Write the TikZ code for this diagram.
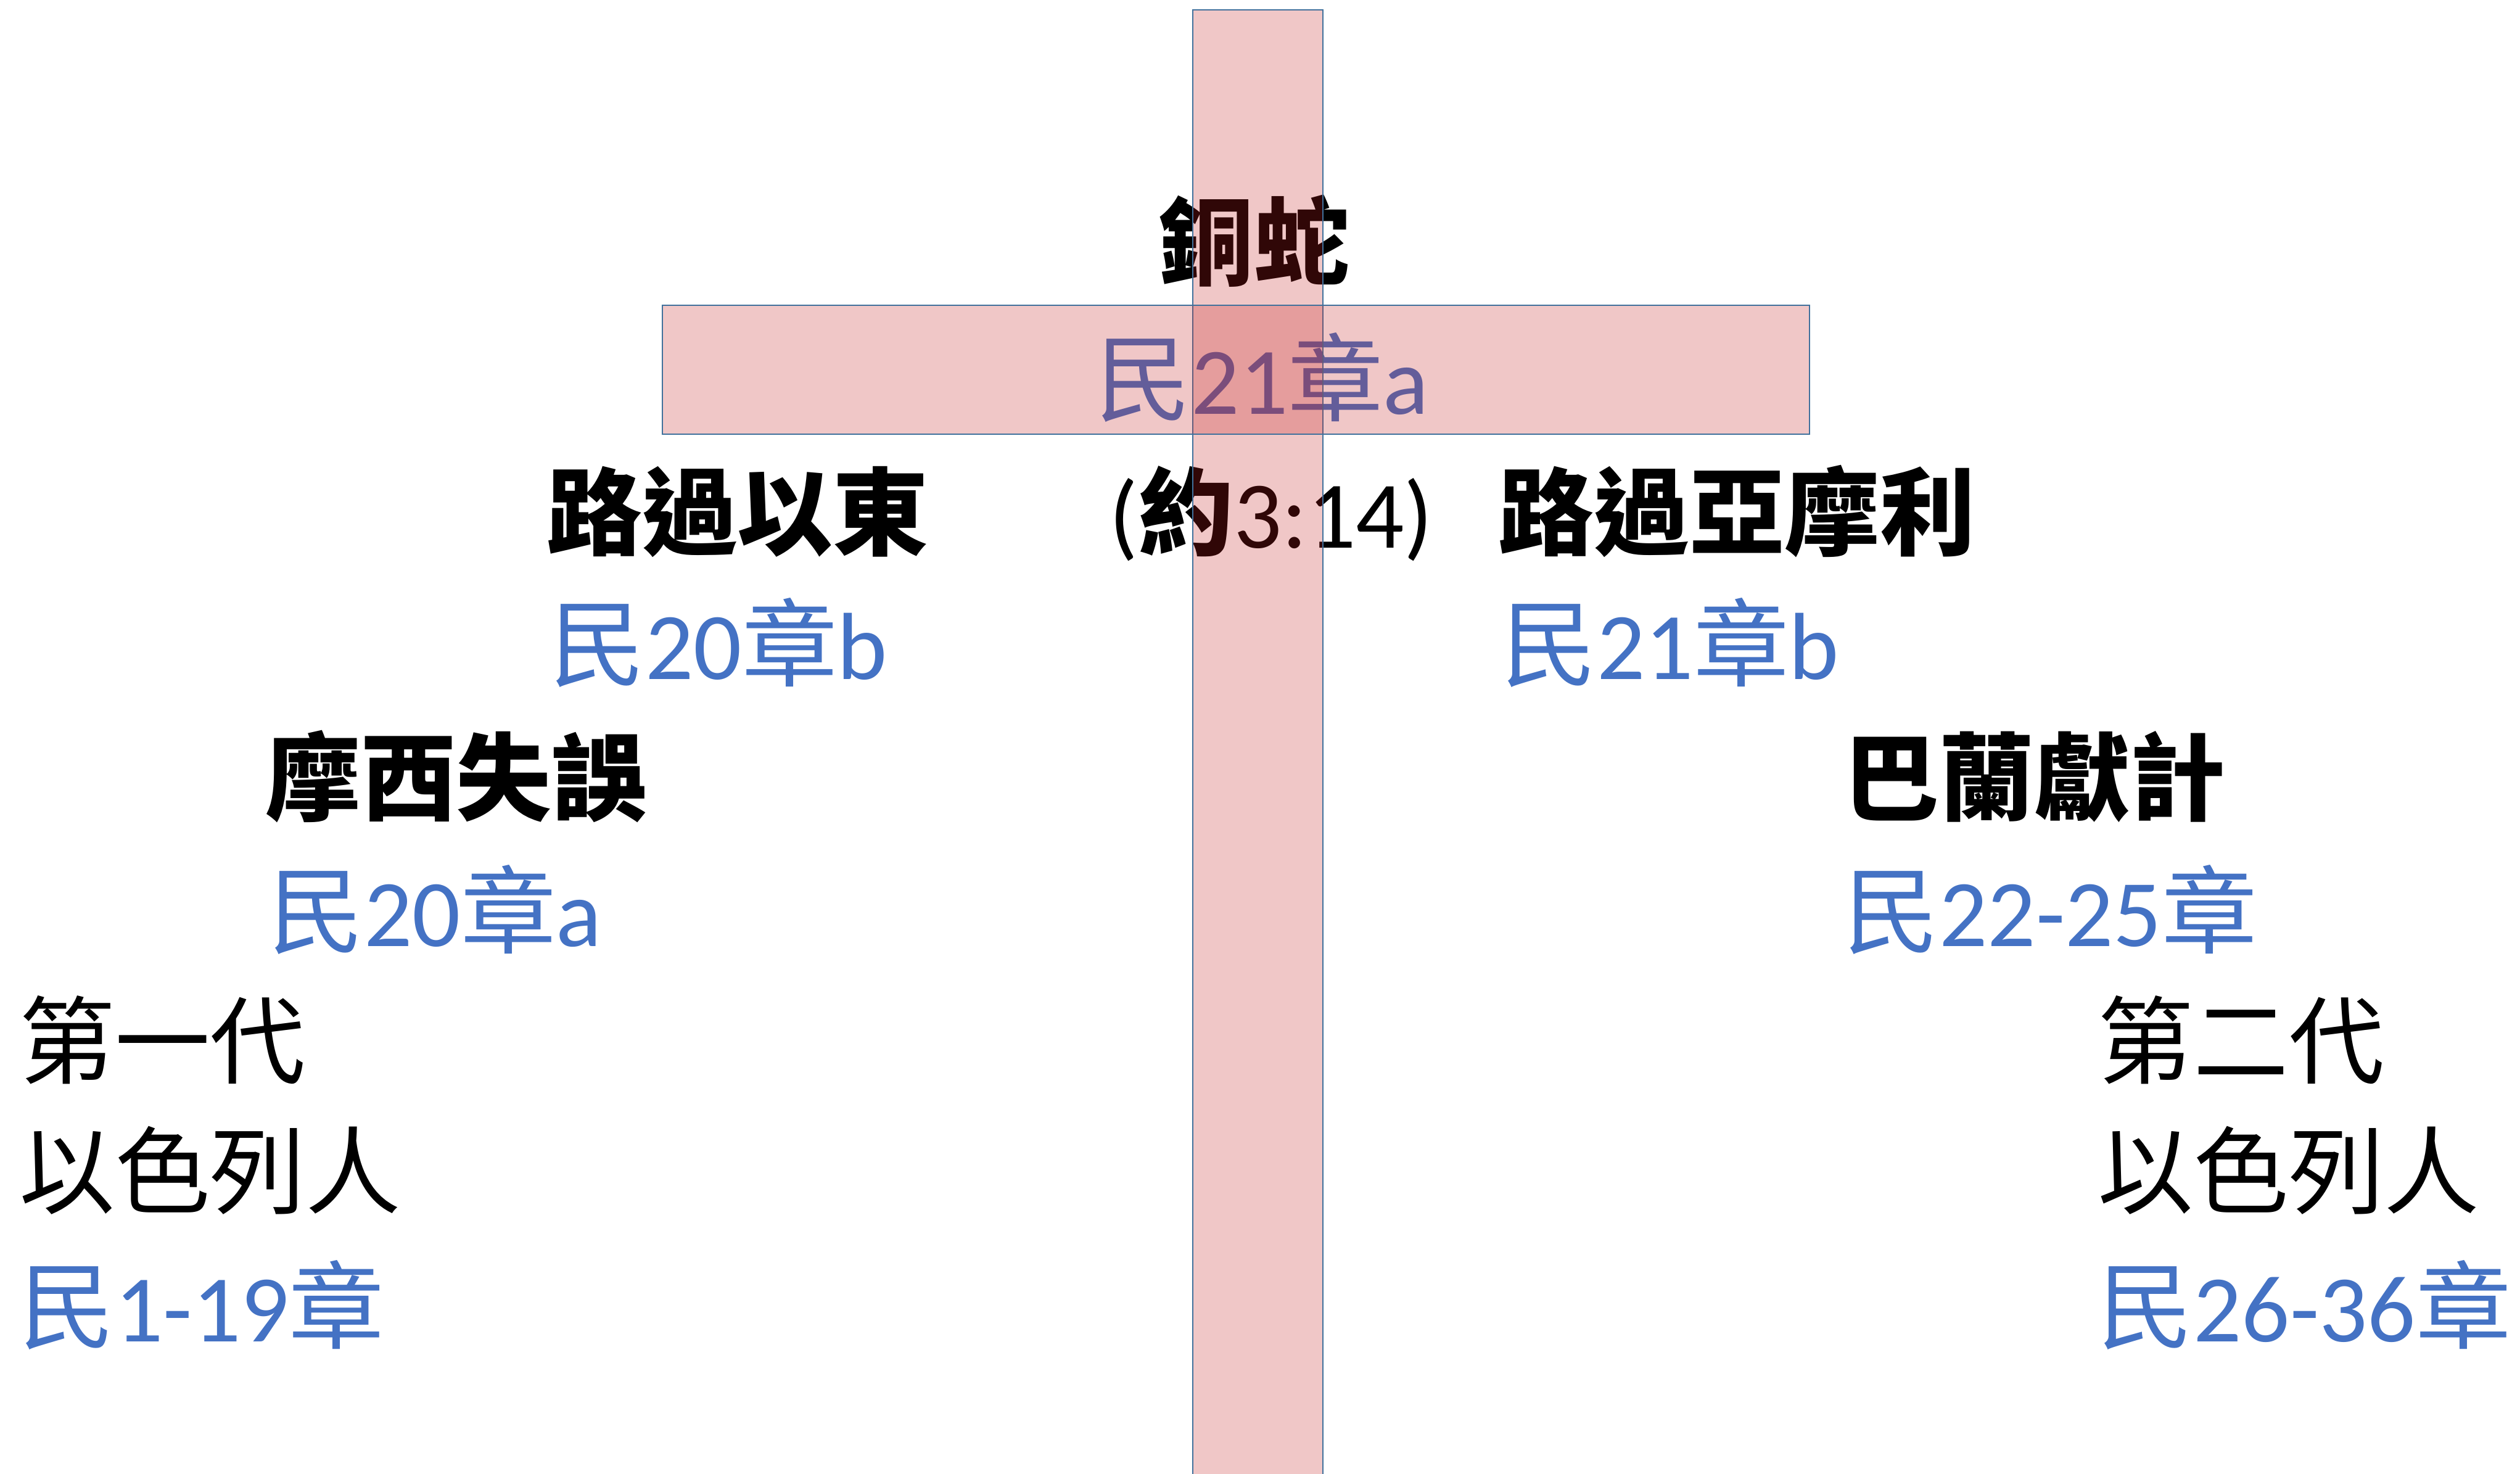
\documentclass[tikz,border=0pt]{standalone}
\usepackage{fontspec}
\setmainfont{Carlito}
\newfontfamily\zhfont{Noto Sans CJK TC}
\newcommand{\zh}[1]{{\zhfont #1}}
\definecolor{refblue}{RGB}{68,114,196}
\definecolor{crossfill}{RGB}{195,31,31}
\definecolor{crossline}{RGB}{65,113,156}

\begin{document}
\begin{tikzpicture}[
    txt/.style={inner sep=0pt, font=\fontsize{44}{50}\selectfont},
    head/.style={txt, anchor=base west},
    ref/.style={txt, anchor=base west, text=refblue},
    bar/.style={fill=crossfill, fill opacity=0.25, draw=crossline, line width=0.8pt}]
  \useasboundingbox (0,0) rectangle (40.86,-23.90);

  \node[txt, anchor=base] (snake) at (20.33,-4.50) {\zh{\bfseries 銅蛇}};
  \node[txt, anchor=base, text=refblue] (snakeref) at (20.47,-6.71) {\zh{民}21\zh{章}a};
  \node[head] (edom) at (8.86,-8.88) {\zh{\bfseries 路過以東}};
  \node[head] (john) at (17.98,-8.88) {(\zh{\bfseries 約}3:14)};
  \node[head] (amor) at (24.29,-8.88) {\zh{\bfseries 路過亞摩利}};
  \node[ref] (edomref) at (8.91,-11.01) {\zh{民}20\zh{章}b};
  \node[ref] (amorref) at (24.34,-11.01) {\zh{民}21\zh{章}b};
  \node[head] (moses) at (4.30,-13.18) {\zh{\bfseries 摩西失誤}};
  \node[head] (balaam) at (29.89,-13.18) {\zh{\bfseries 巴蘭獻計}};
  \node[ref] (mosesref) at (4.35,-15.34) {\zh{民}20\zh{章}a};
  \node[ref] (balaamref) at (29.89,-15.34) {\zh{民}22-25\zh{章}};

  % generations
  \node[head] (gen1) at (0.31,-17.45) {\zh{第一代}};
  \node[head] (isr1) at (0.31,-19.56) {\zh{以色列人}};
  \node[ref] (gen1ref) at (0.31,-21.75) {\zh{民}1-19\zh{章}};
  \node[head] (gen2) at (34.01,-17.45) {\zh{第二代}};
  \node[head] (isr2) at (34.01,-19.56) {\zh{以色列人}};
  \node[ref] (gen2ref) at (34.01,-21.75) {\zh{民}26-36\zh{章}};

  % cross
  \filldraw[bar] (19.34,-0.16) rectangle (21.45,-24.00);
  \filldraw[bar] (10.74,-4.95) rectangle (29.34,-7.04);
\end{tikzpicture}
\end{document}
